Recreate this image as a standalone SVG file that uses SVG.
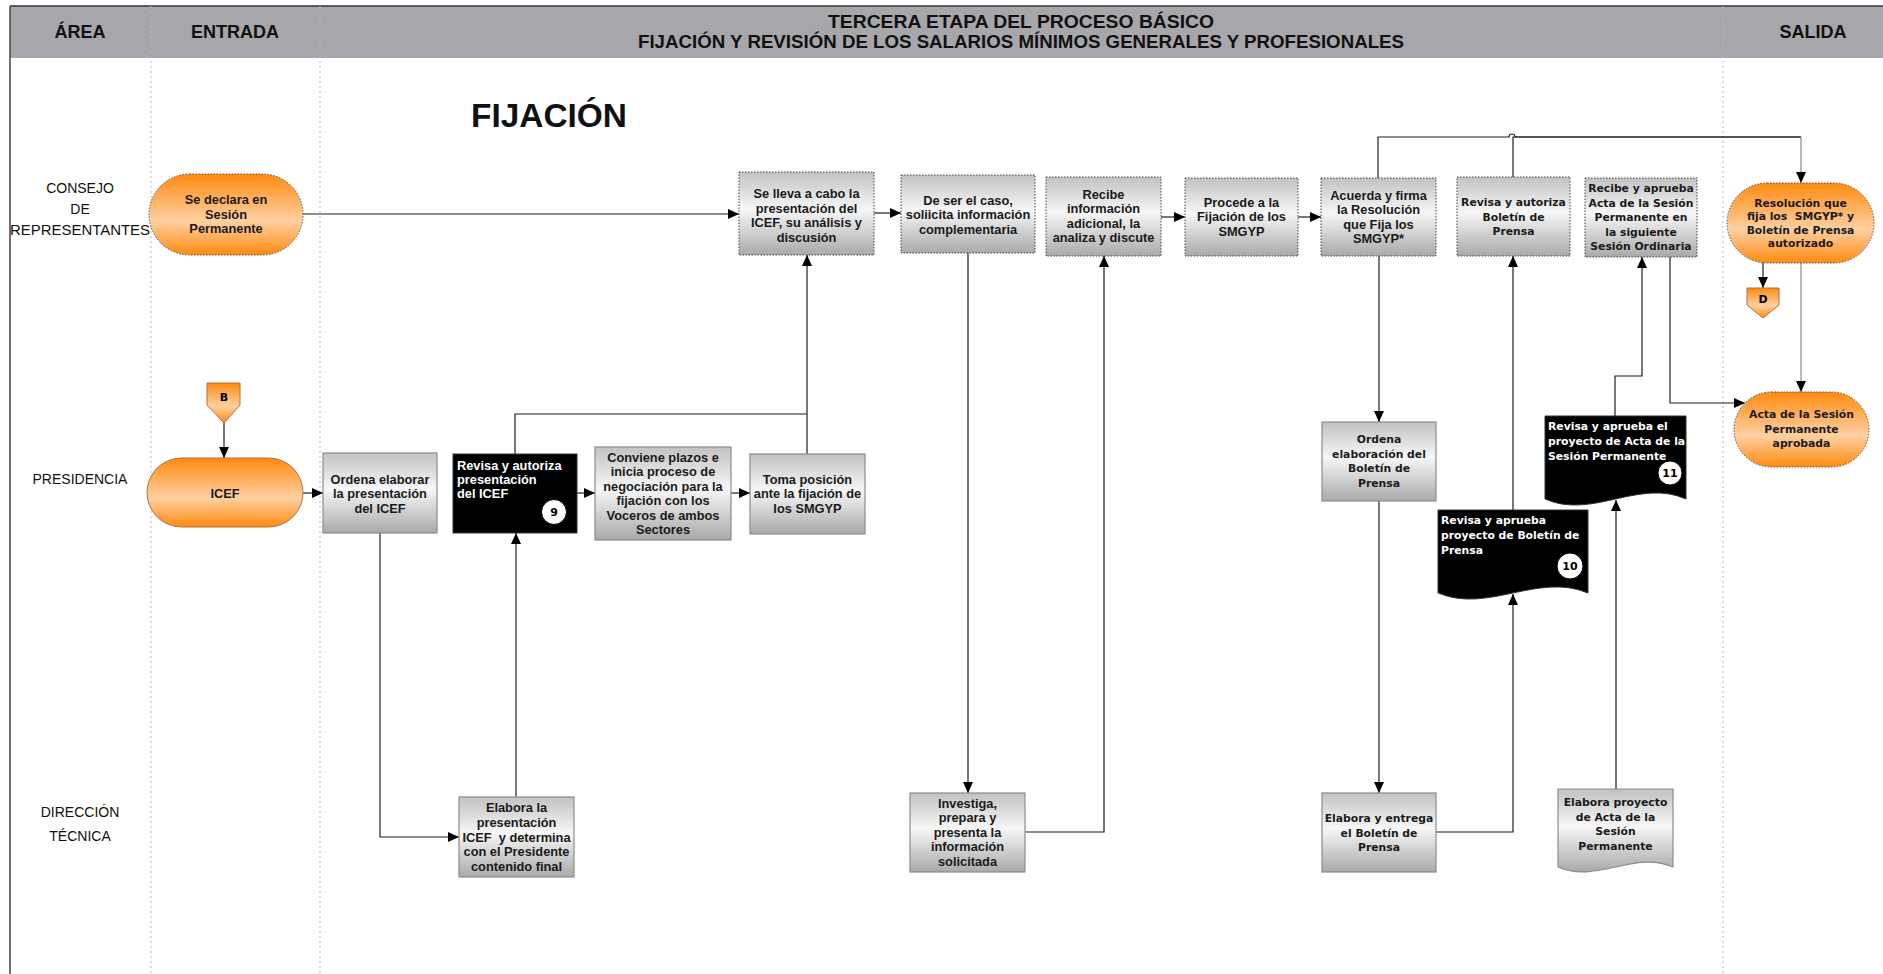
<svg xmlns="http://www.w3.org/2000/svg" width="1883" height="974" viewBox="0 0 1883 974">
<defs>
  <linearGradient id="gGray" x1="0" y1="0" x2="0" y2="1">
    <stop offset="0" stop-color="#c2c2c2"/>
    <stop offset="0.45" stop-color="#f7f7f7"/>
    <stop offset="1" stop-color="#a9a9a9"/>
  </linearGradient>
  <linearGradient id="gOrange" x1="0" y1="0" x2="0" y2="1">
    <stop offset="0" stop-color="#ff8a10"/>
    <stop offset="0.58" stop-color="#ffd0a2"/>
    <stop offset="1" stop-color="#ff8a10"/>
  </linearGradient>
  <marker id="arr" viewBox="0 0 11 10" refX="11" refY="5" markerWidth="11" markerHeight="10" markerUnits="userSpaceOnUse" orient="auto">
    <path d="M0,0 L11,5 L0,10 z" fill="#000"/>
  </marker>
</defs>
<style>
  .hdr{font-family:"Liberation Sans",Arial,sans-serif;font-weight:bold;font-size:18px;fill:#111;text-anchor:middle}
  .lane{font-family:"Liberation Sans",Arial,sans-serif;font-size:14px;fill:#111;text-anchor:middle}
  .n{font-family:"Liberation Sans",Arial,sans-serif;font-weight:bold;font-size:12.8px;fill:#1a1a1a;text-anchor:middle}
  .nw{font-family:"Liberation Sans",Arial,sans-serif;font-weight:bold;font-size:12.8px;fill:#fff}
  .t{font-family:"DejaVu Sans",Verdana,sans-serif;font-weight:bold;font-size:10.8px;fill:#1a1a1a;text-anchor:middle}
  .w{font-family:"DejaVu Sans",Verdana,sans-serif;font-weight:bold;font-size:10.8px;fill:#fff}
  .num{font-family:"DejaVu Sans",Verdana,sans-serif;font-weight:bold;font-size:11px;fill:#000;text-anchor:middle}
  .box{fill:url(#gGray);stroke:#8c8c8c;stroke-width:1.2}
  .dbox{fill:url(#gGray);stroke:#444;stroke-width:1;stroke-dasharray:1.5 1.5}
  .term{fill:url(#gOrange);stroke:#555;stroke-width:1;stroke-dasharray:1.5 1.5}
  .terms{fill:url(#gOrange);stroke:#b07040;stroke-width:1}
  .blk{fill:#000;stroke:#333;stroke-width:1}
  .circ{fill:#fff;stroke:#000;stroke-width:1}
  .sep{stroke:#b8b8b8;stroke-width:1;stroke-dasharray:2 3;fill:none}
  #connectors path{fill:none;stroke:#1e1e1e;stroke-width:1.2}
  #connectors path.gray{stroke:#8a8a8a}
</style>

<rect x="0" y="0" width="1883" height="974" fill="#fff"/>

<!-- header / frame -->
<g id="frame">
  <rect x="10" y="6" width="1873" height="52" fill="#a6a6ab"/>
  <line x1="10" y1="6" x2="1883" y2="6" stroke="#333" stroke-width="1.5"/>
  <line x1="10" y1="6" x2="10" y2="974" stroke="#444" stroke-width="1.5"/>
  <line class="sep" x1="151" y1="6" x2="151" y2="974"/>
  <line class="sep" x1="320" y1="6" x2="320" y2="974"/>
  <line class="sep" x1="1723" y1="6" x2="1723" y2="974"/>
  <text class="hdr" x="80" y="38">ÁREA</text>
  <text class="hdr" x="235" y="38">ENTRADA</text>
  <text class="hdr" x="1021" y="27.5" textLength="386" lengthAdjust="spacingAndGlyphs">TERCERA ETAPA DEL PROCESO BÁSICO</text>
  <text class="hdr" x="1021" y="48" textLength="766" lengthAdjust="spacingAndGlyphs">FIJACIÓN Y REVISIÓN DE LOS SALARIOS MÍNIMOS GENERALES Y PROFESIONALES</text>
  <text class="hdr" x="1813" y="38">SALIDA</text>
  <text x="471" y="127" font-family="Liberation Sans, Arial, sans-serif" font-weight="bold" font-size="33" fill="#111" textLength="156" lengthAdjust="spacingAndGlyphs">FIJACIÓN</text>
  <text class="lane" x="80" y="193">CONSEJO</text>
  <text class="lane" x="80" y="214">DE</text>
  <text class="lane" x="80" y="235" textLength="140" lengthAdjust="spacingAndGlyphs">REPRESENTANTES</text>
  <text class="lane" x="80" y="484">PRESIDENCIA</text>
  <text class="lane" x="80" y="817">DIRECCIÓN</text>
  <text class="lane" x="80" y="841">TÉCNICA</text>
</g>

<!-- connectors -->
<g id="connectors">
  <path d="M303,214 H739" marker-end="url(#arr)"/>
  <path d="M874,213 H901" marker-end="url(#arr)"/>
  <path d="M1161,217 H1185" marker-end="url(#arr)"/>
  <path d="M1298,217 H1321" marker-end="url(#arr)"/>
  <path d="M1378,178 V137 H1509 a3,3 0 0 1 6,0 H1801"/>
  <path d="M1513,177 V137 H1801"/>
  <path class="gray" d="M1801,137 V183" marker-end="url(#arr)"/>
  <path d="M1379,256 V422" marker-end="url(#arr)"/>
  <path d="M1379,501 V793" marker-end="url(#arr)"/>
  <path d="M1436,832 H1513 V594" marker-end="url(#arr)"/>
  <path d="M1513,510 V256" marker-end="url(#arr)"/>
  <path d="M1616,789 V500" marker-end="url(#arr)"/>
  <path d="M1615,416 V376 H1642 V257" marker-end="url(#arr)"/>
  <path d="M1670,257 V403 H1745" marker-end="url(#arr)"/>
  <path d="M1763,262 V288" marker-end="url(#arr)"/>
  <path class="gray" d="M1801,263 V392" marker-end="url(#arr)"/>
  <path d="M224,423 V458" marker-end="url(#arr)"/>
  <path d="M303,493 H323" marker-end="url(#arr)"/>
  <path d="M380,533 V837 H459" marker-end="url(#arr)"/>
  <path d="M516,797 V533" marker-end="url(#arr)"/>
  <path d="M515,454 V414 H807"/>
  <path d="M807,454 V255" marker-end="url(#arr)"/>
  <path d="M577,493 H595" marker-end="url(#arr)"/>
  <path d="M731,493 H750" marker-end="url(#arr)"/>
  <path d="M968,253 V793" marker-end="url(#arr)"/>
  <path d="M1025,832 H1104 V256" marker-end="url(#arr)"/>
</g>

<!-- CONSEJO DE REPRESENTANTES -->
<g id="n-se-declara">
  <rect class="term" x="149" y="174" width="154" height="81" rx="40.5" ry="40.5"/>
  <text class="n"><tspan x="226" y="204">Se declara en</tspan><tspan x="226" y="218.5">Sesión</tspan><tspan x="226" y="233">Permanente</tspan></text>
</g>
<g id="n-se-lleva">
  <rect class="dbox" x="739" y="172" width="135" height="83"/>
  <text class="n"><tspan x="806.5" y="198">Se lleva a cabo la</tspan><tspan x="806.5" y="212.5">presentación del</tspan><tspan x="806.5" y="227">ICEF, su análisis y</tspan><tspan x="806.5" y="241.5">discusión</tspan></text>
</g>
<g id="n-de-ser">
  <rect class="dbox" x="901" y="175" width="134" height="78"/>
  <text class="n"><tspan x="968" y="204.5">De ser el caso,</tspan><tspan x="968" y="219">soliicita información</tspan><tspan x="968" y="233.5">complementaria</tspan></text>
</g>
<g id="n-recibe">
  <rect class="dbox" x="1046" y="177" width="115" height="79"/>
  <text class="n"><tspan x="1103.5" y="198.5">Recibe</tspan><tspan x="1103.5" y="213">información</tspan><tspan x="1103.5" y="227.5">adicional, la</tspan><tspan x="1103.5" y="242">analiza y discute</tspan></text>
</g>
<g id="n-procede">
  <rect class="dbox" x="1185" y="178" width="113" height="78"/>
  <text class="n"><tspan x="1241.5" y="206.5">Procede a la</tspan><tspan x="1241.5" y="221">Fijación de los</tspan><tspan x="1241.5" y="235.5">SMGYP</tspan></text>
</g>
<g id="n-acuerda">
  <rect class="dbox" x="1321" y="178" width="115" height="78"/>
  <text class="n"><tspan x="1378.5" y="199.5">Acuerda y firma</tspan><tspan x="1378.5" y="214">la Resolución</tspan><tspan x="1378.5" y="228.5">que Fija los</tspan><tspan x="1378.5" y="243">SMGYP*</tspan></text>
</g>
<g id="n-revisa-boletin">
  <rect class="dbox" x="1457" y="177" width="113" height="79"/>
  <text class="t"><tspan x="1513.5" y="206">Revisa y autoriza</tspan><tspan x="1513.5" y="220.5">Boletín de</tspan><tspan x="1513.5" y="235">Prensa</tspan></text>
</g>
<g id="n-recibe-acta">
  <rect class="dbox" x="1585" y="178" width="112" height="79"/>
  <text class="t"><tspan x="1641" y="192">Recibe y aprueba</tspan><tspan x="1641" y="206.5">Acta de la Sesión</tspan><tspan x="1641" y="221">Permanente en</tspan><tspan x="1641" y="235.5">la siguiente</tspan><tspan x="1641" y="250">Sesión Ordinaria</tspan></text>
</g>
<g id="n-resolucion">
  <rect class="term" x="1727" y="183" width="147" height="80" rx="40" ry="40"/>
  <text class="t"><tspan x="1800.5" y="206.5">Resolución que</tspan><tspan x="1800.5" y="220">fija los&#160; SMGYP* y</tspan><tspan x="1800.5" y="233.5">Boletín de Prensa</tspan><tspan x="1800.5" y="247">autorizado</tspan></text>
</g>
<g id="n-d">
  <polygon class="terms" points="1747,288 1779,288 1779,305 1763,318 1747,305"/>
  <text class="num" x="1763" y="303" font-size="12">D</text>
</g>
<g id="n-acta-aprobada">
  <rect class="term" x="1734" y="392" width="135" height="75" rx="37.5" ry="37.5"/>
  <text class="t"><tspan x="1801.5" y="418">Acta de la Sesión</tspan><tspan x="1801.5" y="432.5">Permanente</tspan><tspan x="1801.5" y="447">aprobada</tspan></text>
</g>

<!-- PRESIDENCIA -->
<g id="n-b">
  <polygon class="terms" points="207,383 240,383 240,405 224,423 207,405"/>
  <text class="num" x="224" y="400.5" font-size="12">B</text>
</g>
<g id="n-icef">
  <rect class="terms" x="147" y="458" width="156" height="69" rx="34.5" ry="34.5"/>
  <text class="n" x="225" y="497.5">ICEF</text>
</g>
<g id="n-ordena-elaborar">
  <rect class="box" x="323" y="453" width="114" height="80"/>
  <text class="n"><tspan x="380" y="483.5">Ordena elaborar</tspan><tspan x="380" y="498">la presentación</tspan><tspan x="380" y="512.5">del ICEF</tspan></text>
</g>
<g id="n-revisa-icef">
  <rect class="blk" x="453" y="454" width="124" height="79"/>
  <text class="nw"><tspan x="457" y="469.5">Revisa y autoriza</tspan><tspan x="457" y="483.5">presentación</tspan><tspan x="457" y="497.5">del ICEF</tspan></text>
  <circle class="circ" cx="554" cy="512" r="12.5"/>
  <text class="num" x="554" y="516">9</text>
</g>
<g id="n-conviene">
  <rect class="box" x="595" y="447" width="136" height="93"/>
  <text class="n"><tspan x="663" y="461.5">Conviene plazos e</tspan><tspan x="663" y="476">inicia proceso de</tspan><tspan x="663" y="490.5">negociación para la</tspan><tspan x="663" y="505">fijación con los</tspan><tspan x="663" y="519.5">Voceros de ambos</tspan><tspan x="663" y="534">Sectores</tspan></text>
</g>
<g id="n-toma">
  <rect class="box" x="750" y="454" width="115" height="80"/>
  <text class="n"><tspan x="807.5" y="483.5">Toma posición</tspan><tspan x="807.5" y="498">ante la fijación de</tspan><tspan x="807.5" y="512.5">los SMGYP</tspan></text>
</g>
<g id="n-ordena-boletin">
  <rect class="box" x="1322" y="422" width="114" height="79"/>
  <text class="t"><tspan x="1379" y="443">Ordena</tspan><tspan x="1379" y="457.5">elaboración del</tspan><tspan x="1379" y="472">Boletín de</tspan><tspan x="1379" y="486.5">Prensa</tspan></text>
</g>
<g id="n-revisa-boletin-proy">
  <path class="blk" d="M1438,510 H1588 V593 C1538,572 1488,614 1438,593 Z"/>
  <text class="w"><tspan x="1441" y="523.5">Revisa y aprueba</tspan><tspan x="1441" y="538.5">proyecto de Boletín de</tspan><tspan x="1441" y="553.5">Prensa</tspan></text>
  <circle class="circ" cx="1570" cy="566" r="13"/>
  <text class="num" x="1570" y="570">10</text>
</g>
<g id="n-revisa-acta-proy">
  <path class="blk" d="M1545,416 H1686 V499 C1639,478 1592,520 1545,499 Z"/>
  <text class="w"><tspan x="1548" y="430">Revisa y aprueba el</tspan><tspan x="1548" y="445">proyecto de Acta de la</tspan><tspan x="1548" y="459.5">Sesión Permanente</tspan></text>
  <circle class="circ" cx="1670" cy="473" r="12"/>
  <text class="num" x="1670" y="477">11</text>
</g>

<!-- DIRECCIÓN TÉCNICA -->
<g id="n-elabora-presentacion">
  <rect class="box" x="459" y="797" width="115" height="80"/>
  <text class="n"><tspan x="516.5" y="811.5">Elabora la</tspan><tspan x="516.5" y="826.5">presentación</tspan><tspan x="516.5" y="841.5">ICEF&#160; y determina</tspan><tspan x="516.5" y="856">con el Presidente</tspan><tspan x="516.5" y="871">contenido final</tspan></text>
</g>
<g id="n-investiga">
  <rect class="box" x="910" y="793" width="115" height="79"/>
  <text class="n"><tspan x="967.5" y="807.5">Investiga,</tspan><tspan x="967.5" y="822">prepara y</tspan><tspan x="967.5" y="836.5">presenta la</tspan><tspan x="967.5" y="851">información</tspan><tspan x="967.5" y="865.5">solicitada</tspan></text>
</g>
<g id="n-elabora-boletin">
  <rect class="box" x="1322" y="793" width="114" height="79"/>
  <text class="t"><tspan x="1379" y="822">Elabora y entrega</tspan><tspan x="1379" y="836.5">el Boletín de</tspan><tspan x="1379" y="851">Prensa</tspan></text>
</g>
<g id="n-elabora-acta">
  <path class="box" d="M1558,789 H1673 V867 C1635,850 1596,884 1558,867 Z"/>
  <text class="t"><tspan x="1615.5" y="806">Elabora proyecto</tspan><tspan x="1615.5" y="820.5">de Acta de la</tspan><tspan x="1615.5" y="835">Sesión</tspan><tspan x="1615.5" y="849.5">Permanente</tspan></text>
</g>
</svg>
